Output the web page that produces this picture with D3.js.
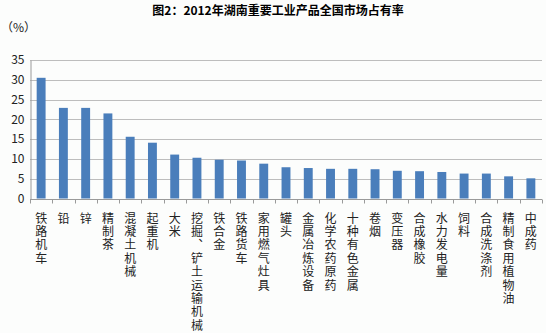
<!DOCTYPE html>
<html><head><meta charset="utf-8">
<script src="https://cdn.jsdelivr.net/npm/d3@7"></script>
<style>
html,body{margin:0;padding:0;background:#fcfdfc;}
svg{display:block;}
</style></head>
<body>
<svg id="chart" width="546" height="333"></svg>
<script>
// 2012 national market share of Hunan's key industrial products (%)
const categories = ["铁路机车","铅","锌","精制茶","混凝土机械","起重机","大米","挖掘、铲土运输机械","铁合金","铁路货车","家用燃气灶具","罐头","金属冶炼设备","化学农药原药","十种有色金属","卷烟","变压器","合成橡胶","水力发电量","饲料","合成洗涤剂","精制食用植物油","中成药"];
const shares = [30.5,22.9,22.9,21.5,15.6,14.1,11.1,10.3,9.8,9.6,8.8,7.9,7.7,7.5,7.5,7.4,7.0,6.9,6.7,6.3,6.3,5.6,5.1];
const yTicks = [0,5,10,15,20,25,30,35];
const title = "图2：2012年湖南重要工业产品全国市场占有率";
const unit = "（%）";

const svg = d3.select("#chart");
const font = "'Noto Sans CJK SC', 'Noto Sans', sans-serif";
const plot = {left: 30, right: 542, top: 60, bottom: 198.5};

const x = d3.scaleBand().domain(categories).range([plot.left, plot.right]).paddingInner(0.6).paddingOuter(0.3);
const xb = d3.scaleBand().domain(categories).range([plot.left, plot.right]);
const y = d3.scaleLinear().domain([0, 35]).range([plot.bottom, plot.top]);

// title and unit
svg.append("text").attr("x", 278).attr("y", 15).attr("text-anchor", "middle")
  .attr("font-family", font).attr("font-weight", "bold").attr("font-size", 12)
  .attr("fill", "#000").text(title);
svg.append("text").attr("x", 1).attr("y", 32)
  .attr("font-family", font).attr("font-size", 12).attr("fill", "#222").text(unit);

// gridlines
svg.append("g").selectAll("line").data(yTicks.filter(d => d > 0)).join("line")
  .attr("x1", plot.left).attr("x2", plot.right)
  .attr("y1", d => Math.round(y(d)) + 0.5).attr("y2", d => Math.round(y(d)) + 0.5)
  .attr("stroke", "#bdbdbd").attr("stroke-width", 1);

// y axis
const yAxis = svg.append("g").attr("transform", `translate(${plot.left + 0.5},0)`)
  .call(d3.axisLeft(y).tickValues(yTicks).tickSize(0).tickPadding(6));
yAxis.select(".domain").attr("stroke", "#9a9a9a");
yAxis.selectAll("text").attr("font-family", font).attr("font-size", 12).attr("fill", "#222");

// bars
svg.append("g").selectAll("rect").data(shares).join("rect")
  .attr("x", (d, i) => x(categories[i]))
  .attr("width", x.bandwidth())
  .attr("y", d => y(d))
  .attr("height", d => y(0) - y(d))
  .attr("fill", "#4a7ebb");

// x axis with ticks between categories
const xAxisG = svg.append("g").attr("transform", `translate(0,${Math.round(plot.bottom) + 0.5})`);
xAxisG.append("line").attr("x1", plot.left).attr("x2", plot.right).attr("stroke", "#9a9a9a");
const bounds = categories.map(c => xb(c)).concat([plot.right]);
xAxisG.selectAll("line.tick").data(bounds).join("line").attr("class", "tick")
  .attr("x1", d => Math.round(d) + 0.5).attr("x2", d => Math.round(d) + 0.5)
  .attr("y1", 0).attr("y2", 4).attr("stroke", "#9a9a9a");

// vertical category labels (characters stacked top to bottom)
svg.append("g").selectAll("text").data(categories).join("text")
  .attr("x", d => xb(d) + xb.bandwidth() / 2)
  .attr("y", 212)
  .style("writing-mode", "vertical-rl")
  .style("text-orientation", "upright")
  .attr("font-family", font).attr("font-size", 12)
  .attr("letter-spacing", 1.4)
  .attr("fill", "#222")
  .text(d => d);
</script>
</body></html>
